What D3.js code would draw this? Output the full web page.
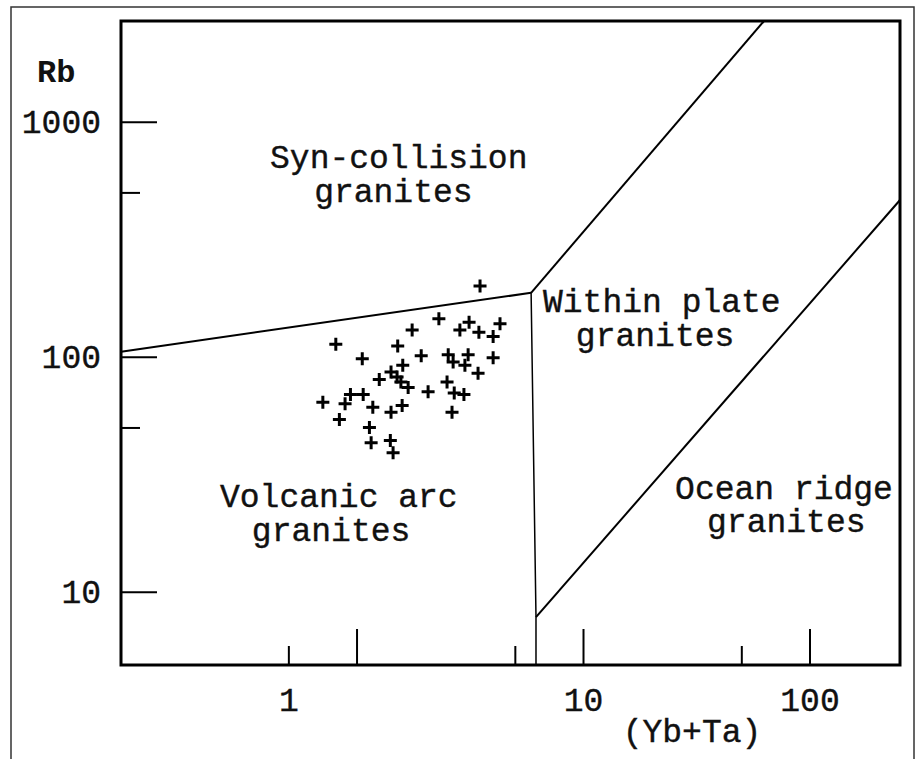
<!DOCTYPE html>
<html>
<head>
<meta charset="utf-8">
<script src="https://cdn.jsdelivr.net/npm/d3@7"></script>
<style>
  html, body { margin: 0; padding: 0; background: #fff; }
  svg text { font-family: "Liberation Mono", "Courier New", monospace; fill: #111; }
</style>
</head>
<body>
<svg id="chart" width="917" height="759"></svg>
<script>
// 样品数据 (Yb+Ta, Rb)
const ybTa = [3.51, 2.31, 3.14, 4.30, 1.76, 2.86, 3.47, 4.01, 0.81, 1.52,
  1.93, 2.54, 3.11, 4.01, 1.06, 1.60, 2.67, 3.01, 1.42, 1.51,
  3.44, 1.26, 1.57, 2.51, 1.69, 2.07, 2.70, 2.98, 0.71, 0.94,
  1.07, 0.89, 1.18, 1.42, 1.59, 2.64, 0.84, 1.14, 1.16, 1.41, 1.45];
const rb = [200, 145, 140, 138, 130, 130, 127, 122, 113, 111,
  101, 102, 102, 99, 98, 92, 95, 92, 86, 82,
  85, 80, 78, 78, 74, 71, 70, 69, 64, 69,
  69, 63, 61, 58, 62, 58, 54, 50, 43, 44, 39];

// 判别图边界线
const vagSynBoundary = [[0.0912, 105], [5.9, 187]];
const synWpgBoundary = [[5.9, 187], [63, 2680]];
const vagWpgBoundary = [[5.9, 187], [6.2, 7.8], [6.2, 4.88]];
const wpgOrgBoundary = [[6.2, 7.8], [251, 464]];

// 坐标轴刻度
const xDomain = [0.0912, 251];
const yDomain = [4.88, 2680];
const xMajorTicks = [1, 10, 100];
const xMinorTicks = [0.5, 5, 50];
const xLabelValues = [0.5, 10, 100];
const xLabelTexts = ['1', '10', '100'];
const yMajorTicks = [10, 100, 1000];
const yMinorTicks = [50, 500];
const yLabelTexts = ['10', '100', '1000'];

// 区域名称（每行起点的数据坐标）
const fieldLabels = [
  { text: 'Syn-collision', at: [0.415, 636] },
  { text: 'granites', at: [0.65, 454] },
  { text: 'Within plate', at: [6.66, 155] },
  { text: 'granites', at: [9.3, 111] },
  { text: 'Volcanic arc', at: [0.2496, 22.9] },
  { text: 'granites', at: [0.345, 16.4] },
  { text: 'Ocean ridge', at: [25.5, 24.8] },
  { text: 'granites', at: [35.3, 17.9] }
];

const svg = d3.select('#chart');
const plot = { left: 121, right: 900, top: 21, bottom: 665 };

const x = d3.scaleLog().domain(xDomain).range([plot.left, plot.right]);
const y = d3.scaleLog().domain(yDomain).range([plot.bottom, plot.top]);

// 外框
svg.append('rect')
  .attr('x', 11).attr('y', 7)
  .attr('width', 903).attr('height', 780)
  .attr('fill', 'none').attr('stroke', '#333').attr('stroke-width', 1.5);

// 刻度（朝内）
const tickAxis = (axis, g, size) => {
  g.call(axis.tickSize(size).tickFormat(''));
  g.select('.domain').remove();
  g.selectAll('.tick line').attr('stroke', '#000').attr('stroke-width', 2);
};

tickAxis(d3.axisBottom(x).tickValues(xMajorTicks),
  svg.append('g').attr('transform', `translate(0,${plot.bottom})`), -36);
tickAxis(d3.axisBottom(x).tickValues(xMinorTicks),
  svg.append('g').attr('transform', `translate(0,${plot.bottom})`), -19);
tickAxis(d3.axisLeft(y).tickValues(yMajorTicks),
  svg.append('g').attr('transform', `translate(${plot.left},0)`), -36);
tickAxis(d3.axisLeft(y).tickValues(yMinorTicks),
  svg.append('g').attr('transform', `translate(${plot.left},0)`), -19);

const textStyle = sel => sel
  .attr('font-size', 33).attr('fill', '#111')
  .attr('stroke', '#111').attr('stroke-width', 0.4);

// 刻度标签
const xLab = svg.append('g').attr('transform', `translate(0,${plot.bottom})`)
  .call(d3.axisBottom(x).tickValues(xLabelValues).tickSize(0).tickPadding(23)
    .tickFormat((d, i) => xLabelTexts[i]));
xLab.select('.domain').remove();
xLab.selectAll('text').call(textStyle);

const yLab = svg.append('g').attr('transform', `translate(${plot.left},0)`)
  .call(d3.axisLeft(y).tickValues(yMajorTicks).tickSize(0).tickPadding(20)
    .tickFormat((d, i) => yLabelTexts[i]));
yLab.select('.domain').remove();
yLab.selectAll('text').call(textStyle);

// 轴名
svg.append('text').attr('x', 37).attr('y', 82)
  .attr('font-size', 32).attr('font-weight', 'bold').text('Rb');
svg.append('text').attr('x', 692).attr('y', 742)
  .attr('text-anchor', 'middle').call(textStyle).text('(Yb+Ta)');

// 图框
svg.append('rect')
  .attr('x', plot.left).attr('y', plot.top)
  .attr('width', plot.right - plot.left).attr('height', plot.bottom - plot.top)
  .attr('fill', 'none').attr('stroke', '#000').attr('stroke-width', 3);

// 边界线
const line = d3.line().x(d => x(d[0])).y(d => y(d[1]));
[vagSynBoundary, synWpgBoundary, wpgOrgBoundary].forEach(b => {
  svg.append('path').attr('d', line(b))
    .attr('fill', 'none').attr('stroke', '#000').attr('stroke-width', 2);
});
svg.append('path').attr('d', line(vagWpgBoundary))
  .attr('fill', 'none').attr('stroke', '#000').attr('stroke-width', 1.5);

// 区域名称
svg.append('g').selectAll('text')
  .data(fieldLabels)
  .join('text')
  .call(textStyle)
  .attr('x', d => x(d.at[0]))
  .attr('y', d => y(d.at[1]))
  .text(d => d.text);

// 样品点（十字）
svg.append('g').selectAll('path')
  .data(ybTa.map((v, i) => [v, rb[i]]))
  .join('path')
  .attr('transform', d => `translate(${x(d[0])},${y(d[1])})`)
  .attr('d', 'M-6.5,0H6.5M0,-6.5V6.5')
  .attr('stroke', '#000').attr('stroke-width', 3).attr('fill', 'none');
</script>
</body>
</html>
